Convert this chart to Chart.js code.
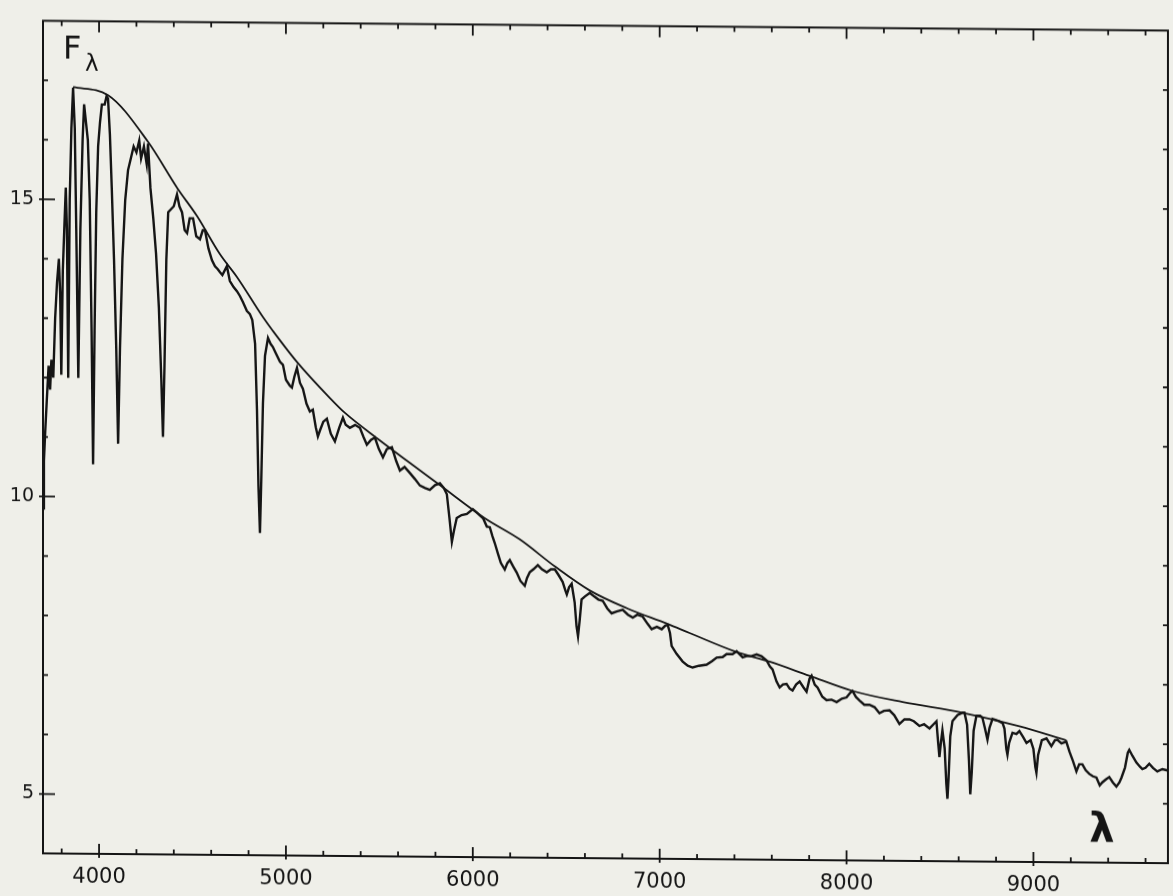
<!DOCTYPE html>
<html><head><meta charset="utf-8">
<script src="https://cdn.jsdelivr.net/npm/chart.js@4.4.0/dist/chart.umd.min.js"></script>
<style>
html,body{margin:0;padding:0;background:#efefe9;}
#wrap{width:1173px;height:896px;position:relative;overflow:hidden;background:#efefe9;}
canvas{display:block;transform:skewY(0.5deg);transform-origin:0 0;}
</style></head><body>
<div id="wrap"><canvas id="c" width="1173" height="896"></canvas></div>
<script>
// Observed spectrum: wavelength (Å) and flux F_λ
const wavelength = [3700,3705,3712,3720,3730,3738,3745,3755,3765,3775,3785,3792,3798,3806,3815,3822,3828,3835,3843,3852,3861,3870,3878,3889,3900,3912,3920,3930,3940,3950,3960,3968,3976,3985,3995,4005,4015,4030,4040,4048,4058,4068,4080,4092,4102,4112,4125,4140,4155,4170,4185,4200,4215,4225,4240,4255,4262,4275,4290,4305,4320,4333,4342,4350,4360,4370,4385,4400,4417,4430,4444,4458,4471,4485,4503,4520,4540,4555,4567,4585,4604,4620,4635,4647,4660,4684,4700,4720,4738,4754,4770,4791,4807,4820,4835,4845,4853,4861,4868,4877,4888,4904,4918,4930,4945,4968,4984,5000,5021,5032,5045,5059,5075,5091,5110,5128,5144,5160,5171,5182,5200,5219,5240,5262,5285,5305,5320,5342,5370,5396,5415,5433,5455,5476,5497,5519,5540,5567,5590,5610,5635,5663,5690,5717,5745,5770,5798,5824,5845,5861,5875,5888,5900,5914,5940,5968,6000,6020,6037,6055,6075,6091,6105,6118,6135,6150,6171,6185,6198,6215,6235,6255,6278,6290,6305,6325,6348,6370,6396,6418,6439,6460,6481,6495,6503,6515,6529,6545,6555,6563,6572,6582,6600,6626,6650,6672,6695,6720,6743,6770,6802,6830,6856,6880,6909,6935,6957,6985,7011,7030,7043,7055,7064,7090,7123,7150,7176,7210,7251,7280,7305,7337,7358,7390,7412,7444,7465,7490,7519,7545,7572,7590,7604,7625,7642,7660,7679,7695,7711,7730,7749,7770,7786,7802,7813,7830,7845,7870,7893,7920,7947,7975,8000,8020,8032,8050,8070,8095,8123,8150,8176,8200,8230,8255,8283,8310,8337,8360,8390,8415,8444,8465,8481,8490,8497,8505,8513,8525,8534,8540,8546,8555,8567,8594,8620,8631,8645,8655,8662,8670,8680,8695,8715,8727,8740,8754,8765,8781,8800,8818,8835,8845,8855,8861,8870,8888,8909,8925,8945,8963,8985,9000,9010,9016,9025,9045,9070,9096,9115,9128,9150,9176,9193,9212,9230,9245,9262,9280,9299,9318,9337,9355,9369,9388,9406,9425,9444,9460,9471,9490,9505,9513,9530,9551,9570,9583,9600,9620,9640,9663,9690,9717];
const flux = [9.8,10.6,11.1,11.6,12.2,11.8,12.3,12.0,13.0,13.6,14.0,13.4,12.05,13.8,14.6,15.2,14.5,12.0,15.0,16.2,16.88,16.2,14.5,12.0,14.5,16.0,16.6,16.3,16.0,15.0,12.8,10.55,12.8,14.8,15.9,16.3,16.6,16.6,16.74,16.7,16.1,15.2,14.0,12.5,10.9,12.5,14.0,15.0,15.5,15.7,15.9,15.8,16.0,15.7,15.9,15.6,15.95,15.2,14.7,14.1,13.2,12.0,11.02,12.2,14.0,14.8,14.85,14.9,15.1,14.9,14.8,14.5,14.45,14.7,14.7,14.4,14.35,14.5,14.5,14.2,14.0,13.9,13.85,13.8,13.75,13.9,13.65,13.55,13.48,13.4,13.3,13.15,13.1,13.0,12.6,11.5,10.2,9.42,10.3,11.6,12.4,12.7,12.6,12.55,12.45,12.3,12.25,12.0,11.9,11.87,12.05,12.2,11.95,11.85,11.6,11.47,11.5,11.2,11.05,11.15,11.3,11.35,11.1,10.97,11.2,11.37,11.25,11.2,11.25,11.2,11.05,10.92,11.0,11.04,10.85,10.71,10.85,10.88,10.65,10.49,10.55,10.45,10.35,10.24,10.2,10.17,10.25,10.28,10.2,10.1,9.7,9.3,9.5,9.7,9.75,9.77,9.85,9.8,9.75,9.7,9.56,9.55,9.4,9.28,9.1,8.95,8.84,8.95,9.0,8.9,8.79,8.65,8.57,8.7,8.8,8.85,8.92,8.85,8.8,8.85,8.85,8.75,8.64,8.5,8.43,8.55,8.61,8.3,7.9,7.73,8.0,8.35,8.4,8.46,8.4,8.35,8.33,8.2,8.12,8.15,8.18,8.1,8.05,8.1,8.07,7.95,7.86,7.9,7.86,7.92,7.93,7.8,7.58,7.45,7.32,7.25,7.22,7.25,7.27,7.33,7.39,7.4,7.45,7.45,7.5,7.4,7.42,7.42,7.45,7.42,7.35,7.25,7.2,7.0,6.9,6.95,6.96,6.88,6.85,6.95,7.0,6.9,6.83,7.05,7.1,6.95,6.9,6.75,6.69,6.7,6.66,6.72,6.74,6.82,6.85,6.75,6.69,6.62,6.62,6.58,6.48,6.52,6.53,6.45,6.3,6.38,6.38,6.35,6.27,6.3,6.23,6.3,6.35,6.0,5.75,6.0,6.2,5.9,5.3,5.05,5.4,6.1,6.36,6.46,6.5,6.5,6.3,5.7,5.13,5.5,6.2,6.45,6.45,6.42,6.25,6.05,6.25,6.4,6.38,6.36,6.33,6.24,5.9,5.8,6.0,6.17,6.15,6.2,6.1,6.0,6.05,5.9,5.6,5.5,5.8,6.05,6.08,5.95,6.05,6.06,6.0,6.03,5.86,5.7,5.53,5.65,5.65,5.55,5.49,5.45,5.43,5.3,5.35,5.4,5.44,5.35,5.28,5.35,5.43,5.6,5.85,5.9,5.8,5.69,5.62,5.58,5.6,5.67,5.6,5.54,5.58,5.56];
// Fitted continuum over the peaks
const contWavelength = [3861,4048,4262,4420,4524,4647,4738,4877,4930,5059,5235,5316,5500,5650,5824,6064,6251,6439,6626,6830,7043,7160,7400,7588,7800,8032,8300,8620,8925,9176];
const contFlux = [16.89,16.76,15.98,15.2,14.74,14.1,13.72,13.05,12.82,12.3,11.7,11.45,11.0,10.65,10.25,9.7,9.35,8.9,8.5,8.2,7.95,7.8,7.5,7.33,7.1,6.85,6.67,6.5,6.28,6.05];
// Axis ticks
const xTickLabels = [4000,5000,6000,7000,8000,9000];
const xMinorTicks = [3800,4200,4400,4600,4800,5200,5400,5600,5800,6200,6400,6600,6800,7200,7400,7600,7800,8200,8400,8600,8800,9200,9400,9600];
const yTickLabels = [5,10,15];
const yMinorTicks = [6,7,8,9,11,12,13,14,16,17];

const INK = '#151515';

const framePlugin = {
  id: 'frame',
  afterDraw(chart) {
    const {ctx, chartArea: {left, right, top, bottom}, scales: {x, y}} = chart;
    ctx.save();
    ctx.strokeStyle = INK;
    ctx.lineWidth = 2;
    ctx.strokeRect(left, top, right - left, bottom - top);
    ctx.lineWidth = 1.8;
    ctx.beginPath();
    xTickLabels.forEach(v => {
      const px = x.getPixelForValue(v);
      ctx.moveTo(px, bottom + 4); ctx.lineTo(px, bottom - 10);
      ctx.moveTo(px, top); ctx.lineTo(px, top + 11);
    });
    xMinorTicks.forEach(v => {
      const px = x.getPixelForValue(v);
      ctx.moveTo(px, bottom); ctx.lineTo(px, bottom - 5);
      ctx.moveTo(px, top); ctx.lineTo(px, top + 5);
    });
    yTickLabels.forEach(v => {
      const py = y.getPixelForValue(v);
      ctx.moveTo(left - 4, py); ctx.lineTo(left + 12, py);
      ctx.moveTo(right, py); ctx.lineTo(right - 5, py);
    });
    yMinorTicks.forEach(v => {
      const py = y.getPixelForValue(v);
      ctx.moveTo(left, py); ctx.lineTo(left + 5, py);
      ctx.moveTo(right, py); ctx.lineTo(right - 5, py);
    });
    ctx.stroke();
    ctx.fillStyle = INK;
    ctx.textBaseline = 'alphabetic';
    ctx.textAlign = 'left';
    ctx.font = '32px "DejaVu Sans"';
    ctx.fillText('F', 63, 58);
    ctx.font = '23px "DejaVu Sans"';
    ctx.fillText('λ', 85, 70);
    ctx.font = 'bold 40px "DejaVu Sans"';
    ctx.textAlign = 'center';
    ctx.fillText('λ', 1102, 832);
    ctx.restore();
  }
};

new Chart(document.getElementById('c'), {
  type: 'line',
  data: {
    datasets: [
      {
        label: 'Spectrum',
        data: wavelength.map((w, i) => ({x: w, y: flux[i]})),
        borderColor: INK, borderWidth: 2.4, pointRadius: 0, tension: 0, fill: false
      },
      {
        label: 'Continuum',
        data: contWavelength.map((w, i) => ({x: w, y: contFlux[i]})),
        borderColor: INK, borderWidth: 1.8, pointRadius: 0, cubicInterpolationMode: 'monotone', fill: false
      }
    ]
  },
  options: {
    responsive: false,
    animation: false,
    devicePixelRatio: 1,
    layout: {padding: {top: 12, right: 5, left: 0, bottom: 0}},
    plugins: {legend: {display: false}, tooltip: {enabled: false}, title: {display: false}},
    scales: {
      x: {
        type: 'linear', min: 3700, max: 9720,
        afterBuildTicks: s => { s.ticks = xTickLabels.map(v => ({value: v})); },
        afterFit: s => { s.height = 43; },
        grid: {display: false, drawTicks: false},
        border: {display: false},
        ticks: {padding: 11, color: INK, autoSkip: false, maxRotation: 0,
          font: {family: 'DejaVu Sans', size: 21}, callback: v => String(v)}
      },
      y: {
        type: 'linear', min: 4, max: 18,
        afterBuildTicks: s => { s.ticks = yTickLabels.map(v => ({value: v})); },
        afterFit: s => { s.width = 43; },
        grid: {display: false, drawTicks: false},
        border: {display: false},
        ticks: {padding: 9, color: INK, autoSkip: false,
          font: {family: 'DejaVu Sans', size: 19}, callback: v => String(v)}
      }
    }
  },
  plugins: [framePlugin]
});
</script>
</body></html>
